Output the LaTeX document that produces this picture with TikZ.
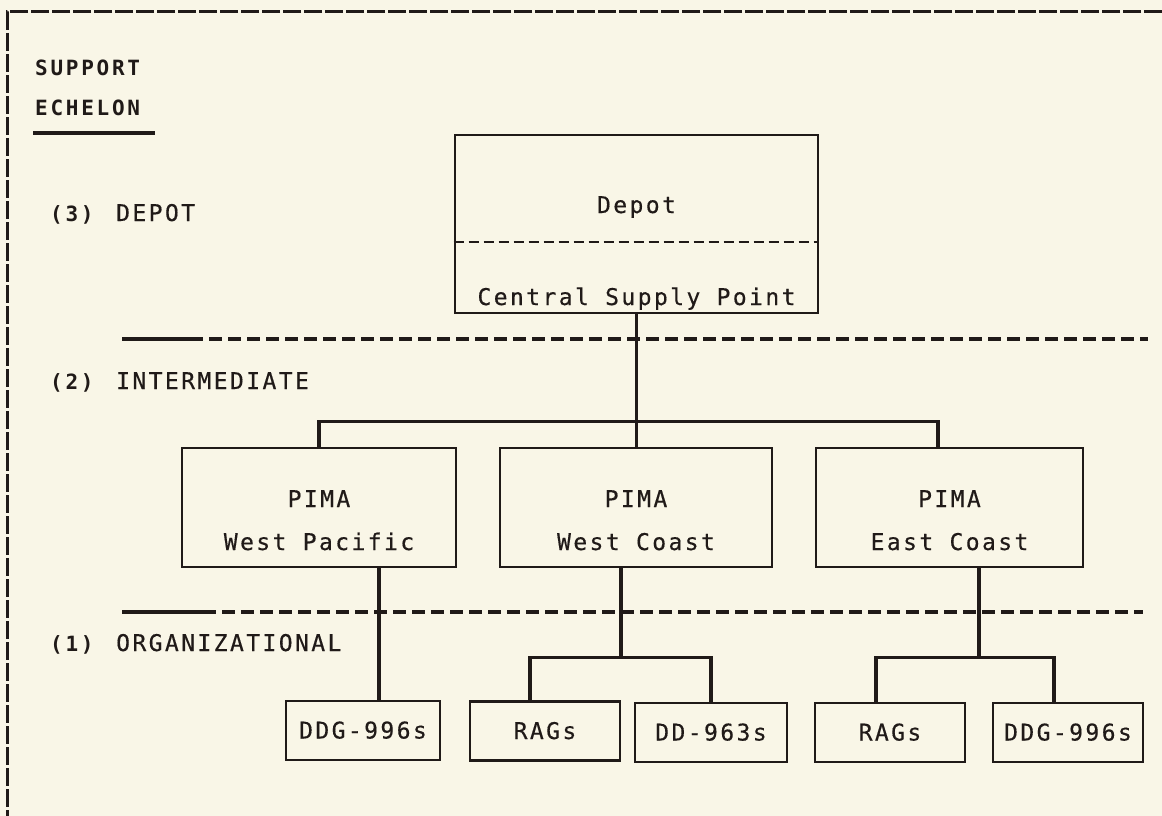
\documentclass[tikz,border=0pt]{standalone}
\usepackage{fontspec}
\usepackage{xcolor}
\usepackage{tikz}
\usetikzlibrary{positioning, calc}
\newfontfamily\plotter[LetterSpace=10.5, FakeBold=0.4]{DejaVu Sans Mono}
\newfontfamily\plotterhead[LetterSpace=13]{DejaVu Sans Mono Bold}
\definecolor{paper}{RGB}{249,246,231}
\definecolor{ink}{RGB}{32,26,24}

\begin{document}
\begin{tikzpicture}[x=1pt, y=-1pt,
    every node/.style={font=\plotter\fontsize{23}{27}\selectfont, text=ink},
    head/.style={font=\plotterhead\fontsize{21}{25}\selectfont},
    box/.style={draw=ink, line width=2.8pt, inner sep=0pt},
    link/.style={draw=ink, line width=3.3pt},
    level/.style={draw=ink, line width=3.6pt},
    txt/.style={anchor=base, inner sep=0pt}]

  % paper
  \fill[paper] (0,0) rectangle (1162,816);
  \useasboundingbox (0,0) rectangle (1162,816);

  % frame, top and left only
  \draw[ink, line width=3pt, dash pattern=on 18pt off 3pt] (1162,12) -- (7,12) -- (7,816);

  % heading
  \node[txt, head, anchor=base west] (hsup) at (35,75) {SUPPORT};
  \node[txt, head, anchor=base west] (hech) at (35,115) {ECHELON};
  \draw[ink, line width=3.6pt] (33,133) -- (155,133);

  % echelon labels
  \foreach \n/\y/\lbl in {3/221/DEPOT, 2/389/INTERMEDIATE, 1/651/ORGANIZATIONAL}{
    \node[txt, head, anchor=base west] (num\n) at (50,\y) {(\n)};
    \node[txt, anchor=base west] (lvl\n) at (116,\y) {\lbl};
  }

  % dividers
  \draw[level] (122,339) -- (190,339);
  \draw[level, dash pattern=on 13pt off 6pt] (190,339) -- (1148,339);
  \draw[level] (122,612) -- (203,612);
  \draw[level, dash pattern=on 13pt off 6pt] (203,612) -- (1143,612);

  % depot
  \node[box, minimum width=363pt, minimum height=178pt] (depot) at (636.5,224) {};
  \draw[ink, line width=2.4pt, dash pattern=on 10pt off 5pt]
    (depot.west |- 0,242) -- (depot.east |- 0,242);
  \node[txt] (depotA) at (636.5,213) {Depot};
  \node[txt] (depotB) at (636.5,305) {Central Supply Point};

  % PIMA boxes
  \foreach \nm/\x/\w/\loc in {pimaW/319/274/West Pacific, pimaC/636/272/West Coast, pimaE/949.5/267/East Coast}{
    \node[box, minimum width=\w pt, minimum height=119pt] (\nm) at (\x,507.5) {};
    \node[txt] (\nm a) at (\x,507) {PIMA};
    \node[txt] (\nm b) at (\x,550) {\loc};
  }

  % ships
  \foreach \nm/\x/\y/\w/\lbl in {ddgW/363/730.5/154/DDG-996s, ragsC/545/731/150/RAGs,
      ddC/711/732.5/152/DD-963s, ragsE/890/732.5/150/RAGs, ddgE/1068/732.5/150/DDG-996s}{
    \node[box, minimum width=\w pt, minimum height=59pt] (\nm) at (\x,\y) {};
    \node[txt] (\nm t) at (\x,\y+8) {\lbl};
  }

  % depot to PIMA
  \draw[link] (depot.south) -- ++(0,107) coordinate (jTop);
  \draw[link] (pimaW.north) |- (jTop) -| ([xshift=-11.5pt]pimaE.north);
  \draw[link] (jTop) -- (jTop |- pimaC.north);

  % PIMA to ships
  \draw[link] ([xshift=60pt]pimaW.south) coordinate (aW) -- (aW |- ddgW.north);
  \draw[link] ([xshift=-15pt]pimaC.south) -- ++(0,89) coordinate (jC);
  \draw[link] ([xshift=-15pt]ragsC.north) |- (jC) -| (ddC.north);
  \draw[link] ([xshift=29.5pt]pimaE.south) -- ++(0,89) coordinate (jE);
  \draw[link] ([xshift=-14pt]ragsE.north) |- (jE) -| ([xshift=-14pt]ddgE.north);
\end{tikzpicture}
\end{document}
